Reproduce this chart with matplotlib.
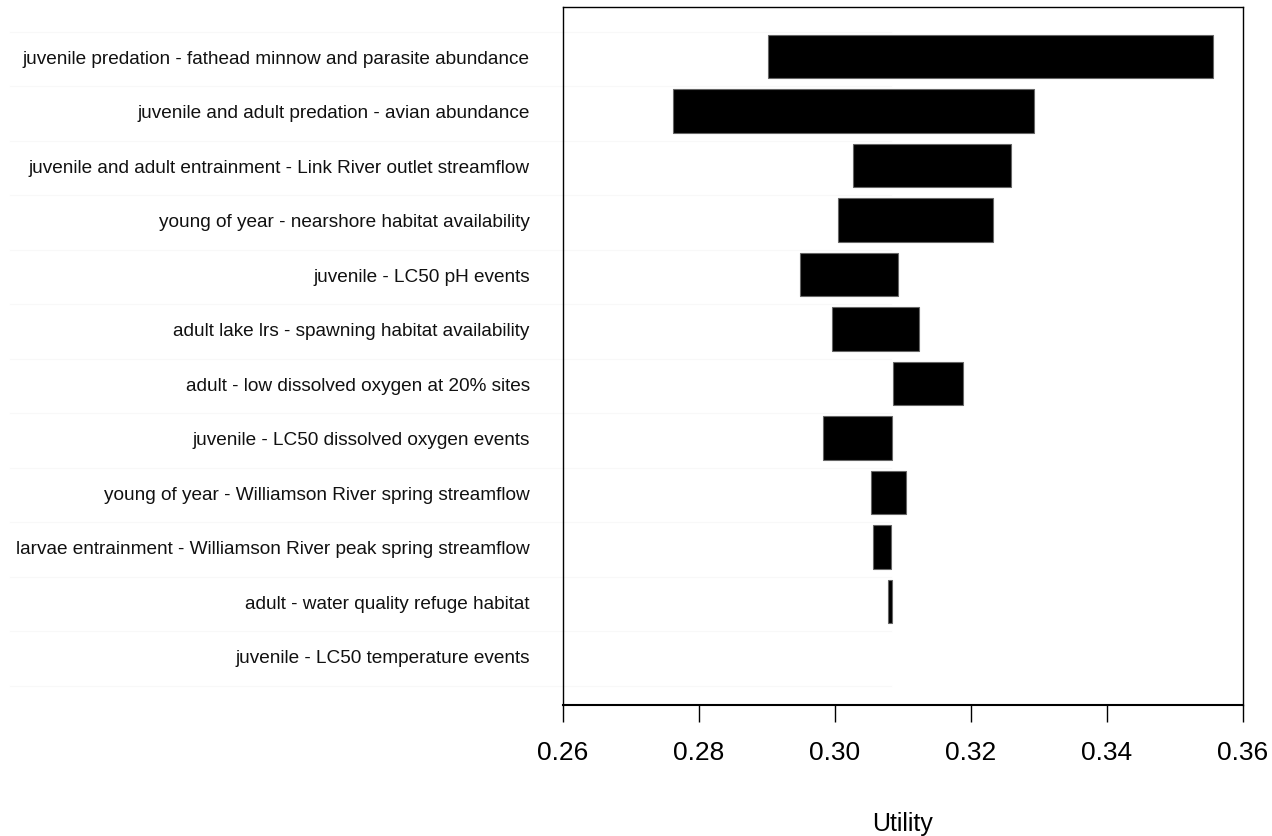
import matplotlib
matplotlib.use('Agg')
import matplotlib.pyplot as plt

# tornado chart of utility ranges for each factor
factors = [
    'juvenile predation - fathead minnow and parasite abundance',
    'juvenile and adult predation - avian abundance',
    'juvenile and adult entrainment - Link River outlet streamflow',
    'young of year - nearshore habitat availability',
    'juvenile - LC50 pH events',
    'adult lake lrs - spawning habitat availability',
    'adult - low dissolved oxygen at 20% sites',
    'juvenile - LC50 dissolved oxygen events',
    'young of year - Williamson River spring streamflow',
    'larvae entrainment - Williamson River peak spring streamflow',
    'adult - water quality refuge habitat',
    'juvenile - LC50 temperature events',
]
low = [0.2901, 0.2762, 0.3027, 0.3005, 0.2949, 0.2995,
       0.3086, 0.2982, 0.3053, 0.3056, 0.3078, 0.3082]
high = [0.3556, 0.3293, 0.3259, 0.3233, 0.3093, 0.3124,
        0.3188, 0.3084, 0.3105, 0.3083, 0.3084, 0.3082]
base = 0.3082
xticks = [0.26, 0.28, 0.30, 0.32, 0.34, 0.36]

plt.rcParams['font.family'] = ['Liberation Sans', 'DejaVu Sans']

fig = plt.figure(figsize=(12.72, 8.37), dpi=100)
ax = fig.add_axes([563 / 1272, 1 - 706 / 837, 680 / 1272, 698 / 837])

pos = list(range(1, len(factors) + 1))
widths = [h - l for l, h in zip(low, high)]
edges = [0.8 if w > 0 else 0 for w in widths]
ax.barh(pos, widths, left=low, height=0.8, color='black',
        edgecolor='#666666', linewidth=edges)

# faint row separators behind the labels
for k in range(1, len(factors) + 2):
    ax.plot([0.1787, base], [k - 0.45, k - 0.45], color='#f8f8f8',
            linewidth=0.8, clip_on=False, zorder=0)

ax.set_xlim(0.26, 0.36)
ax.set_ylim(12.9, 0.093)
ax.set_yticks(pos)
ax.set_yticklabels(factors, fontsize=13.7, color='#111111')
ax.tick_params(axis='y', length=0, pad=24)

ax.set_xticks(xticks)
ax.set_xticklabels([f'{t:.2f}' for t in xticks], fontsize=19)
ax.tick_params(axis='x', length=12, width=1.0, pad=13, direction='out')

for s in ax.spines.values():
    s.set_linewidth(1.0)
ax.spines['bottom'].set_linewidth(1.5)

fig.text(903 / 1272, 1 - 831 / 837, 'Utility', ha='center', va='baseline',
         fontsize=18)

fig.savefig('out.png', dpi=100)
